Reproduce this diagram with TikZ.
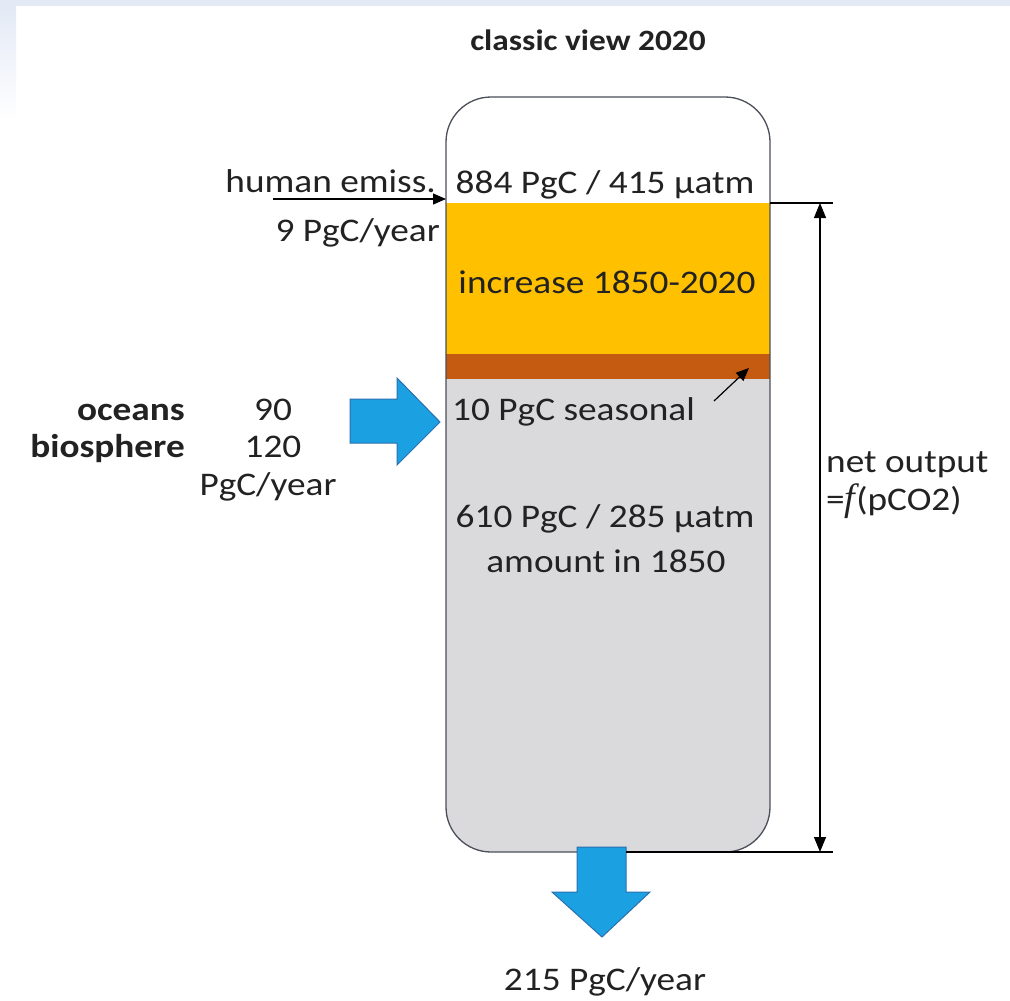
\documentclass[tikz,border=0pt]{standalone}
\usepackage{fontspec}
\setmainfont{Carlito}[FakeStretch=1.13]
\newfontfamily\fserif{Liberation Serif}
\usetikzlibrary{arrows.meta}
\definecolor{bandc}{HTML}{E3E9F5}
\definecolor{orng}{HTML}{FFC000}
\definecolor{dorng}{HTML}{C55A11}
\definecolor{grayfill}{HTML}{DADADC}
\definecolor{outl}{HTML}{4A4F5A}
\definecolor{txt}{HTML}{222222}
\definecolor{bluef}{HTML}{1BA1E2}
\definecolor{blued}{HTML}{2A6FB0}
\begin{document}
\begin{tikzpicture}[x=1pt,y=-1pt,
  lab/.style={font=\fontsize{33}{40}\selectfont, text=txt, inner sep=0pt},
  blab/.style={lab, font=\fontsize{33}{40}\selectfont\bfseries},
  tlab/.style={lab, font=\fontsize{29.5}{36}\selectfont\bfseries},
  tip/.style={-{Triangle[length=13pt,width=11pt]}},
  dtip/.style={{Triangle[length=15pt,width=12pt]}-{Triangle[length=15pt,width=12pt]}},
  bigarrow/.style={fill=bluef, draw=blued, line width=1pt, line join=miter}]
% background
\fill[white] (0,0) rectangle (1010,1001);
\useasboundingbox (0,0) rectangle (1010,1001);
\fill[bandc] (0,0) rectangle (1010,6);
\shade[top color=bandc, bottom color=white] (0,6) rectangle (16,120);

% vessel
\begin{scope}
  \clip[rounded corners=45] (446,97) rectangle (770,852);
  \fill[white] (446,97) rectangle (770,203);
  \fill[orng] (446,203) rectangle (770,354);
  \fill[dorng] (446,354) rectangle (770,379);
  \fill[grayfill] (446,379) rectangle (770,852);
\end{scope}
\draw[outl, line width=1.3pt, rounded corners=45] (446,97) rectangle (770,852);

\coordinate (vtopR) at (770,203);
\coordinate (vL) at (446,199);
\coordinate (vbot) at (626,852);
\coordinate (dimtopR) at (833,203);
\coordinate (dimbotR) at (833,852);
\coordinate (dimtop) at (820,203);
\coordinate (dimbot) at (820,852);

% title
\node[tlab, anchor=base] (title) at (588,50) {classic view 2020};

% texts in vessel
\node[lab, anchor=base] (t884) at (605,193) {884 PgC / 415 µatm};
\node[lab, anchor=base] (tinc) at (607,293) {increase 1850-2020};
\node[lab, anchor=base west] (tseas) at (452,420) {10 PgC seasonal};
\node[lab, anchor=base] (t610) at (605,527) {610 PgC / 285 µatm};
\node[lab, anchor=base] (tamt) at (606,572) {amount in 1850};

% human emissions
\node[lab, anchor=base east] (hum) at (436,192) {human emiss.};
\node[lab, anchor=base east] (hum2) at (440,241) {9 PgC/year};
\coordinate (humstart) at (273,199);
\draw[tip, black, line width=1.2pt] (humstart) -- (vL);

% seasonal small arrow
\coordinate (sA) at (714,401);
\coordinate (sB) at (749,368);
\draw[tip, black, line width=1.2pt] (sA) -- (sB);

% left labels
\node[blab, anchor=base east] (oce) at (185,420) {oceans};
\node[lab, anchor=base] (n90) at (273,420) {90};
\node[blab, anchor=base east] (bio) at (185,457) {biosphere};
\node[lab, anchor=base] (n120) at (273,457) {120};
\node[lab, anchor=base] (pgcy) at (268,495) {PgC/year};

% blue input arrow
\draw[bigarrow] (350,399) -- (397,399) -- (397,378) -- (440,422) -- (397,465) -- (397,443) -- (350,443) -- cycle;

% blue output arrow
\draw[bigarrow] (577,847) -- (626,847) -- (626,892) -- (650,892) -- (602,937) -- (552,892) -- (577,892) -- cycle;
\node[lab, anchor=base] (out) at (605,990) {215 PgC/year};

% dimension lines
\draw[black, line width=1.2pt] (vtopR) -- (dimtopR);
\draw[black, line width=1.2pt] (vbot) -- (dimbotR);
\draw[dtip, black, line width=1.2pt] (dimtop) -- (dimbot);
\node[lab, anchor=base west] (net) at (826,472) {net output};
\node[lab, anchor=base west] (fn) at (826,510) {={\fserif\itshape\fontsize{38}{40}\selectfont f\kern1pt}(pCO2)};
\end{tikzpicture}
\end{document}
